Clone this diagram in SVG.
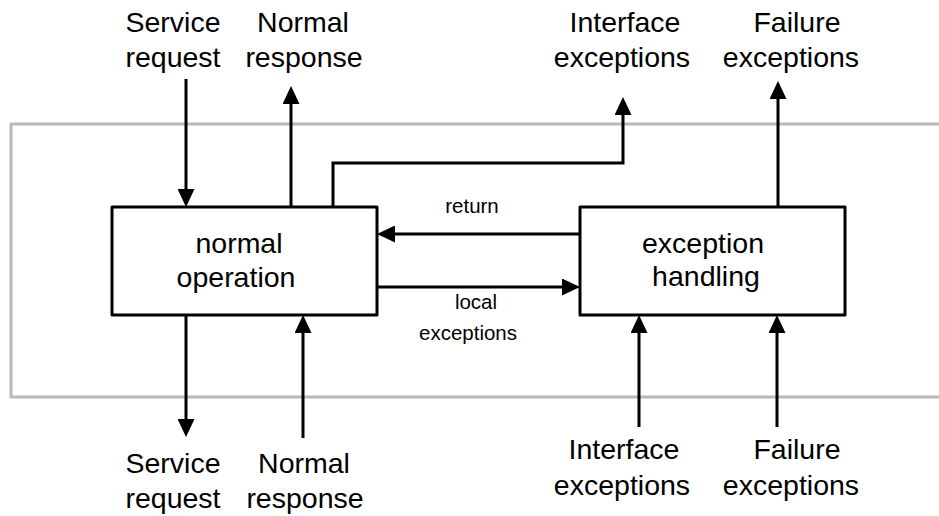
<svg xmlns="http://www.w3.org/2000/svg" width="939" height="516" viewBox="0 0 939 516">
  <style>
    .frame { fill: none; stroke: #b9b9b9; stroke-width: 3; }
    .box { fill: #ffffff; stroke: #000000; stroke-width: 3; stroke-linejoin: round; }
    .wire { fill: none; stroke: #000000; stroke-width: 3; marker-end: url(#ah); }
    .lbl { font-family: "Liberation Sans", Arial, Helvetica, sans-serif; font-size: 28.5px; fill: #000000; text-anchor: middle; }
    .small { font-family: "Liberation Sans", Arial, Helvetica, sans-serif; font-size: 20.5px; fill: #000000; text-anchor: middle; }
  </style>
  <defs>
    <marker id="ah" viewBox="0 0 18 17" refX="0" refY="8.5" markerWidth="18" markerHeight="17" markerUnits="userSpaceOnUse" orient="auto">
      <path d="M0,0 L18,8.5 L0,17 Z" fill="#000000"/>
    </marker>
  </defs>

  <rect width="939" height="516" fill="#ffffff"/>

  <!-- component boundary -->
  <rect id="boundary" class="frame" x="11" y="124" width="1000" height="273"/>

  <g id="connectors">
    <path class="wire" d="M186,79 V189"/>
    <path class="wire" d="M291,207 V104"/>
    <path class="wire" d="M333,207 V163 H623 V115"/>
    <path class="wire" d="M778,207 V99"/>
    <path class="wire" d="M580,234 H395"/>
    <path class="wire" d="M377,287 H562"/>
    <path class="wire" d="M186,315 V419"/>
    <path class="wire" d="M303,438 V333"/>
    <path class="wire" d="M639,427 V333"/>
    <path class="wire" d="M777,427 V333"/>
    <text class="small" x="472" y="213">return</text>
    <text class="small" x="476" y="309">local</text>
    <text class="small" x="468" y="340">exceptions</text>
  </g>

  <g id="normal-operation">
    <rect class="box" x="112" y="207" width="265" height="108"/>
    <text class="lbl" x="239" y="253">normal</text>
    <text class="lbl" x="236" y="287">operation</text>
  </g>

  <g id="exception-handling">
    <rect class="box" x="580" y="207" width="265" height="108"/>
    <text class="lbl" x="703" y="253">exception</text>
    <text class="lbl" x="706" y="286">handling</text>
  </g>

  <g id="in-service-request">
    <text class="lbl" x="173" y="32">Service</text>
    <text class="lbl" x="173" y="67">request</text>
  </g>
  <g id="out-normal-response">
    <text class="lbl" x="303" y="32">Normal</text>
    <text class="lbl" x="304" y="67">response</text>
  </g>
  <g id="out-interface-exceptions">
    <text class="lbl" x="625" y="32">Interface</text>
    <text class="lbl" x="622" y="67">exceptions</text>
  </g>
  <g id="out-failure-exceptions">
    <text class="lbl" x="797" y="32">Failure</text>
    <text class="lbl" x="791" y="67">exceptions</text>
  </g>

  <g id="sub-service-request">
    <text class="lbl" x="173" y="473">Service</text>
    <text class="lbl" x="173" y="508">request</text>
  </g>
  <g id="sub-normal-response">
    <text class="lbl" x="304" y="473">Normal</text>
    <text class="lbl" x="305" y="508">response</text>
  </g>
  <g id="sub-interface-exceptions">
    <text class="lbl" x="624" y="459">Interface</text>
    <text class="lbl" x="622" y="495">exceptions</text>
  </g>
  <g id="sub-failure-exceptions">
    <text class="lbl" x="797" y="459">Failure</text>
    <text class="lbl" x="791" y="495">exceptions</text>
  </g>
</svg>
